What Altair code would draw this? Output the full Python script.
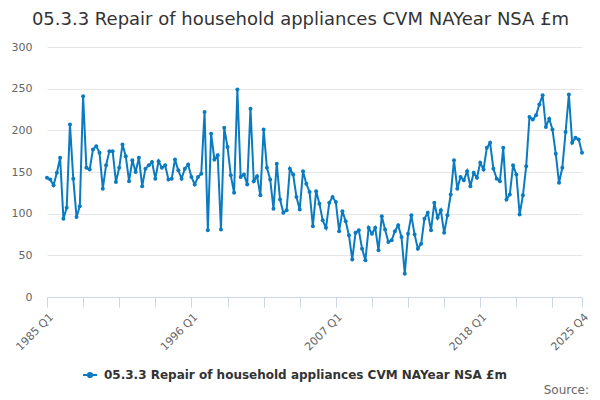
import altair as alt
import pandas as pd

title_text = "05.3.3 Repair of household appliances CVM NAYear NSA £m"
series_name = "05.3.3 Repair of household appliances CVM NAYear NSA £m"
source_text = ["Source:"]

start_year = 1985
# quarterly values 1985 Q1 .. 2025 Q4
values_a = [143, 141, 134, 149, 167, 94, 107, 207, 142, 96,
            109, 241, 155, 153, 177, 181, 173, 130, 158, 175,
            175, 138, 155, 183, 169, 139, 164, 150, 167, 133,
            154, 158, 162, 142, 163, 155, 158, 141, 142, 165,
            152]
values_b = [142, 154, 159, 144, 135, 144, 148, 222, 80,
            196, 165, 170, 81, 203, 180, 146, 125, 249, 144,
            147, 135, 226, 139, 145, 122, 201, 155, 141, 106,
            160, 117, 101, 104, 154, 147, 120, 105, 151, 136,
            126, 85, 127, 112]
values_c = [92, 83, 113, 120, 114, 79,
            103, 91, 74, 45, 77, 80, 58, 44, 83, 76,
            83, 56, 97, 81, 66, 68, 79, 86, 72, 28,
            76, 98, 75, 58, 64, 94, 101, 80, 113, 95,
            104, 77, 98, 123, 164, 130, 144]
values_d = [140, 151, 133,
            149, 143, 161, 153, 179, 185, 154, 142, 139, 179,
            117, 123, 158, 147, 99, 122, 157, 216, 213, 218,
            231, 242, 204, 214, 201, 172, 137, 155, 198, 243,
            185, 191, 189, 173]
values = values_a + values_b + values_c + values_d
quarters = [f"{start_year + i // 4} Q{i % 4 + 1}" for i in range(len(values))]

tick_idx = list(range(0, len(values), 11)) + [len(values) - 1]
shown_labels = ["1985 Q1", "1996 Q1", "2007 Q1", "2018 Q1", "2025 Q4"]
y_ticks = [0, 50, 100, 150, 200, 250, 300]

df = pd.DataFrame({"i": list(range(len(values))), "quarter": quarters,
                   "value": values, "series": series_name})

expr = "''"
for lab in reversed(shown_labels):
    expr = f"datum.value == {quarters.index(lab)} ? '{lab}' : ({expr})"

color = "#0b7bc1"
font = "DejaVu Sans"

line = alt.Chart(df).mark_line(
    strokeWidth=2,
    point=alt.OverlayMarkDef(size=16, filled=True, color=color),
).encode(
    x=alt.X("i:Q",
            scale=alt.Scale(domain=[0, len(values) - 1], nice=False, zero=False),
            axis=alt.Axis(values=tick_idx, labelExpr=expr, title=None, grid=False,
                          labelAngle=-45, labelAlign="right", labelBaseline="top",
                          labelFontSize=11, labelColor="#666", labelFont=font,
                          tickColor="#ccd6eb", tickSize=10, domainColor="#ccd6eb",
                          labelPadding=4, labelOverlap=False, labelFlush=False)),
    y=alt.Y("value:Q",
            scale=alt.Scale(domain=[0, 300], nice=False),
            axis=alt.Axis(values=y_ticks, title=None, domain=False, ticks=False,
                          labelPadding=15, labelFontSize=11, labelColor="#666",
                          labelFont=font, gridColor="#e6e6e6")),
    color=alt.Color("series:N", scale=alt.Scale(range=[color]),
                    legend=alt.Legend(orient="none", legendX=35, legendY=320,
                                      title=None, padding=0,
                                      labelFont=font, labelFontSize=12,
                                      labelFontWeight="bold", labelColor="#333",
                                      labelLimit=700,
                                      symbolType="M-1,0L1,0M-0.3,0a0.3,0.3 0 1,0 0.6,0a0.3,0.3 0 1,0 -0.6,0",
                                      symbolSize=196, symbolStrokeWidth=2,
                                      symbolFillColor=color, symbolStrokeColor=color,
                                      labelOffset=6)),
)

src = alt.Chart(pd.DataFrame({"t": source_text})).mark_text(
    align="right", baseline="middle", fontSize=12, font=font, color="#666"
).encode(x=alt.value(542), y=alt.value(343), text="t:N")

chart = alt.layer(line, src).properties(
    width=535, height=250,
    padding={"left": 39, "top": 39, "right": 8, "bottom": 100},
    autosize=alt.AutoSizeParams(type="none"),
    title=alt.TitleParams(text=title_text, fontSize=18, font=font,
                          fontWeight="normal", color="#333", anchor="middle",
                          offset=12, dx=-14),
).configure_view(stroke=None)

chart.save("out.html", embed_options={"renderer": "svg", "actions": False})
